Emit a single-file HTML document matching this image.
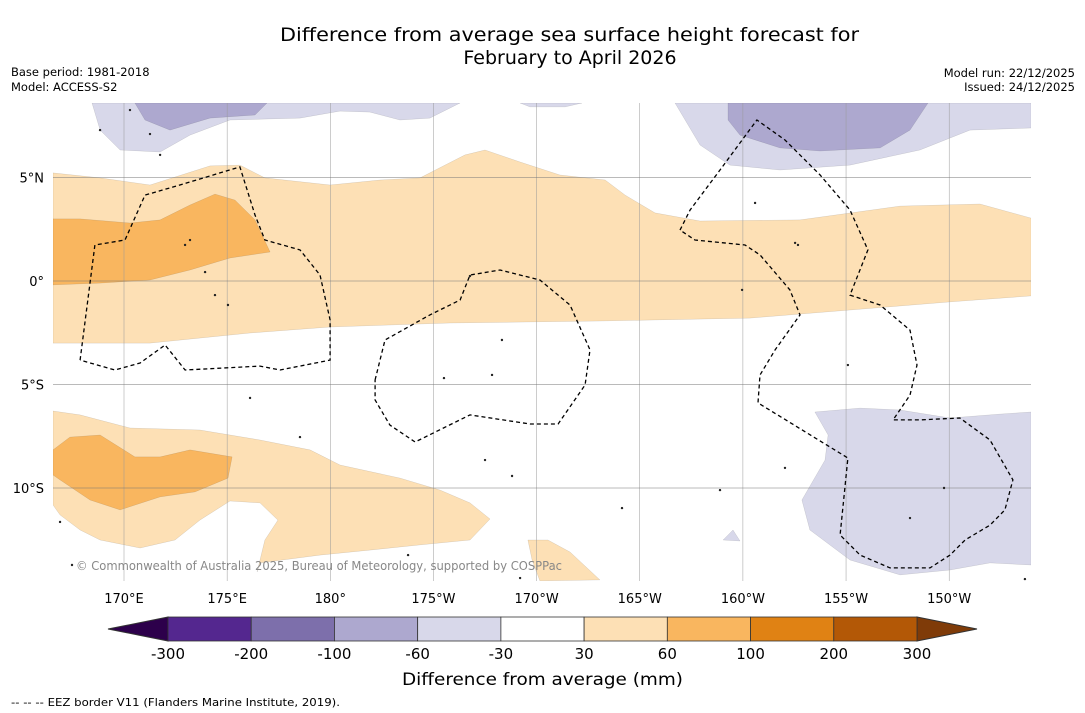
<!DOCTYPE html>
<html><head><meta charset="utf-8">
<style>
html,body{margin:0;padding:0;background:#fff;width:1085px;height:713px;overflow:hidden}
svg{display:block;font-family:"DejaVu Sans","Liberation Sans",sans-serif}
</style></head>
<body>
<svg id="chart" width="1085" height="713" viewBox="0 0 1085 713" xmlns="http://www.w3.org/2000/svg">
<text x="280" y="41" font-size="19" textLength="579" lengthAdjust="spacingAndGlyphs">Difference from average sea surface height forecast for</text>
<text x="570" y="64" font-size="19" text-anchor="middle">February to April 2026</text>
<text x="11" y="76" font-size="11.5">Base period: 1981-2018</text>
<text x="11" y="91" font-size="11.5">Model: ACCESS-S2</text>
<text x="1075" y="77" font-size="11.5" text-anchor="end">Model run: 22/12/2025</text>
<text x="1075" y="91" font-size="11.5" text-anchor="end">Issued: 24/12/2025</text>
<g id="map"></g>
<g id="colorbar"></g>
<text x="402" y="685" font-size="17" textLength="281" lengthAdjust="spacingAndGlyphs">Difference from average (mm)</text>
<text x="11" y="706" font-size="11" textLength="329" lengthAdjust="spacingAndGlyphs">--  --  -- EEZ border V11 (Flanders Marine Institute, 2019).</text>
</svg>
<script>
// axis definitions
const lonTicks = [170,175,180,185,190,195,200,205,210];
const lonLabels = ["170°E","175°E","180°","175°W","170°W","165°W","160°W","155°W","150°W"];
const latTicks = [5,0,-5,-10];
const latLabels = ["5°N","0°","5°S","10°S"];
const cbLevels = [-300,-200,-100,-60,-30,30,60,100,200,300];
const cbColors = ["#54278f","#7d6fab","#ada8cf","#d8d8ea","#ffffff","#fde0b5","#f9b65f","#e08214","#b35806"];
const cbUnder = "#2d004b", cbOver = "#7f3b08";

const X0=53,X1=1031,Y0=103,Y1=581;
const lonX = lon => 124 + (lon-170)*20.63;
const latY = lat => 281 - lat*20.7;
const pxLon = x => 170 + (x-124)/20.63;
const pxLat = y => (281-y)/20.7;

function region(pts){ const a=[]; for(let i=0;i<pts.length;i+=2) a.push([+pxLon(pts[i]).toFixed(2), +pxLat(pts[i+1]).toFixed(2)]); return a; }
const lightOrange = [
 region([53,173,100,178,150,185,210,166,240,165,265,178,330,185,380,180,420,178,465,155,485,150,520,162,560,175,605,180,625,195,655,213,700,221,800,220,900,206,980,204,1031,218,1031,296,950,302,850,310,750,318,600,321,450,323,330,327,250,333,150,343,53,343]),
 region([53,411,80,415,130,428,200,430,260,440,310,450,340,465,400,478,440,490,470,503,490,519,470,540,420,545,370,550,320,555,260,563,257,572,265,540,278,520,260,503,230,501,200,520,175,540,140,548,100,540,80,530,60,515,53,505]),
 region([528,540,548,540,570,552,600,580,540,581,532,560])
];
const midOrange = [
 region([53,219,80,219,130,223,160,220,190,205,215,194,235,200,255,220,270,252,230,258,190,270,150,280,100,283,53,285]),
 region([53,450,70,437,100,435,135,457,160,457,190,450,232,457,228,478,195,492,160,497,120,510,90,500,60,480,53,475])
];
const lightPurple = [
 region([92,103,460,103,430,118,400,120,370,112,340,111,300,118,230,120,190,135,160,152,120,150,100,130]),
 region([520,103,582,103,565,107,530,107]),
 region([675,103,1031,103,1031,128,970,130,920,150,850,165,780,170,730,165,700,145]),
 region([815,412,860,408,900,410,950,418,1000,414,1031,412,1031,565,990,563,950,570,900,575,850,560,810,530,802,500,825,460,828,435]),
 region([723,540,733,530,740,541])
];
const midPurple = [
 region([728,103,928,103,910,130,880,148,820,151,780,148,740,135,728,120]),
 region([135,103,267,103,255,115,210,118,170,130,145,120])
];
const eez = [
 region([80,360,95,245,125,240,145,195,180,185,240,167,255,215,265,240,300,250,320,275,330,320,330,360,280,370,260,366,185,370,165,345,140,363,115,370,80,360]),
 region([375,380,385,340,430,315,460,300,470,275,500,270,540,280,570,305,590,350,585,385,558,424,530,424,470,415,415,442,390,425,375,400,375,380]),
 region([680,230,690,210,720,170,757,120,785,140,820,175,850,210,868,250,850,295,880,305,910,330,917,365,910,395,893,420,920,420,960,418,990,440,1013,480,1005,510,990,525,965,540,950,555,930,568,890,568,860,555,840,535,848,458,758,403,760,375,775,350,800,315,790,290,760,255,745,245,695,240,680,230])
];
const islands = region([185,245,190,240,205,272,215,295,228,305,250,398,300,437,470,276,502,340,444,378,492,375,485,460,512,476,720,490,622,508,785,468,944,488,910,518,60,522,72,565,130,110,160,155,755,203,795,243,798,245,742,290,848,365,408,555,520,578,1025,579,100,130,150,134]);

const NS="http://www.w3.org/2000/svg";
const map=document.getElementById('map');
const defs=document.createElementNS(NS,'defs');
defs.innerHTML='<clipPath id="mapclip"><rect x="53" y="103" width="978" height="478"/></clipPath>';
map.appendChild(defs);
const g=document.createElementNS(NS,'g'); g.setAttribute('clip-path','url(#mapclip)'); map.appendChild(g);
const toD=(pts,close)=>pts.map((p,i)=>(i?'L':'M')+lonX(p[0]).toFixed(1)+' '+latY(p[1]).toFixed(1)).join('')+(close?'Z':'');
function drawSet(set,fill,name){ set.forEach(r=>{ const p=document.createElementNS(NS,'path'); p.setAttribute('d',toD(r,true)); p.setAttribute('fill',fill); p.setAttribute('stroke','rgba(0,0,0,0.15)'); p.setAttribute('stroke-width','0.5');
 
 
 g.appendChild(p); }); }
drawSet(lightOrange,cbColors[5],'contour-30-60mm');
drawSet(midOrange,cbColors[6],'contour-60-100mm');
drawSet(lightPurple,cbColors[3],'contour-minus60-minus30mm');
drawSet(midPurple,cbColors[2],'contour-minus100-minus60mm');
lonTicks.forEach((lon,i)=>{ const l=document.createElementNS(NS,'line'); const x=lonX(lon); l.setAttribute('x1',x);l.setAttribute('x2',x);l.setAttribute('y1',Y0);l.setAttribute('y2',Y1); l.setAttribute('stroke','#999'); l.setAttribute('stroke-width','0.5');
 
 
 g.appendChild(l);
 const t=document.createElementNS(NS,'text'); t.setAttribute('x',x); t.setAttribute('y',603); t.setAttribute('font-size','13'); t.setAttribute('text-anchor','middle'); t.textContent=lonLabels[i];
 
 
 document.getElementById('chart').appendChild(t); });
latTicks.forEach((lat,i)=>{ const l=document.createElementNS(NS,'line'); const y=latY(lat); l.setAttribute('x1',X0);l.setAttribute('x2',X1);l.setAttribute('y1',y);l.setAttribute('y2',y); l.setAttribute('stroke','#777'); l.setAttribute('stroke-width','0.5');
 
 
 g.appendChild(l);
 const t=document.createElementNS(NS,'text'); t.setAttribute('x',44); t.setAttribute('y',y+5); t.setAttribute('font-size','13'); t.setAttribute('text-anchor','end'); t.textContent=latLabels[i];
 
 
 document.getElementById('chart').appendChild(t); });
eez.forEach(r=>{ const p=document.createElementNS(NS,'path'); p.setAttribute('d',toD(r,false)); p.setAttribute('fill','none'); p.setAttribute('stroke','#000'); p.setAttribute('stroke-width','1.3'); p.setAttribute('stroke-dasharray','4 3');
 
 
 g.appendChild(p); });
islands.forEach(pt=>{ const c=document.createElementNS(NS,'circle'); c.setAttribute('cx',lonX(pt[0])); c.setAttribute('cy',latY(pt[1])); c.setAttribute('r','1.2'); c.setAttribute('fill','#222');
 
 
 g.appendChild(c); });
const cp=document.createElementNS(NS,'text'); cp.setAttribute('x',76); cp.setAttribute('y',570); cp.setAttribute('font-size','12'); cp.setAttribute('fill','#888'); cp.setAttribute('textLength','486'); cp.setAttribute('lengthAdjust','spacingAndGlyphs'); cp.textContent='© Commonwealth of Australia 2025, Bureau of Meteorology, supported by COSPPac';


g.appendChild(cp);

const cb=document.getElementById('colorbar');
const CX0=168, CX1=917, CY=617, CH=24, step=(CX1-CX0)/(cbLevels.length-1);
const cbX = i => CX0 + i*step;
const under=document.createElementNS(NS,'polygon'); under.setAttribute('points',`${CX0},${CY} ${CX0},${CY+CH} 108,${CY+CH/2}`); under.setAttribute('fill',cbUnder); under.setAttribute('stroke','#333');


cb.appendChild(under);
const over=document.createElementNS(NS,'polygon'); over.setAttribute('points',`${CX1},${CY} ${CX1},${CY+CH} 977,${CY+CH/2}`); over.setAttribute('fill',cbOver); over.setAttribute('stroke','#333');


cb.appendChild(over);
cbColors.forEach((c,i)=>{ const r=document.createElementNS(NS,'rect'); r.setAttribute('x',cbX(i)); r.setAttribute('y',CY); r.setAttribute('width',step); r.setAttribute('height',CH); r.setAttribute('fill',c); r.setAttribute('stroke','#333'); r.setAttribute('stroke-width','0.8');
 
 
 cb.appendChild(r); });
cbLevels.forEach((v,i)=>{ const t=document.createElementNS(NS,'text'); t.setAttribute('x',cbX(i)); t.setAttribute('y',659); t.setAttribute('font-size','15'); t.setAttribute('text-anchor','middle'); t.textContent=v;
 
 
 cb.appendChild(t); });
</script>
</body></html>
